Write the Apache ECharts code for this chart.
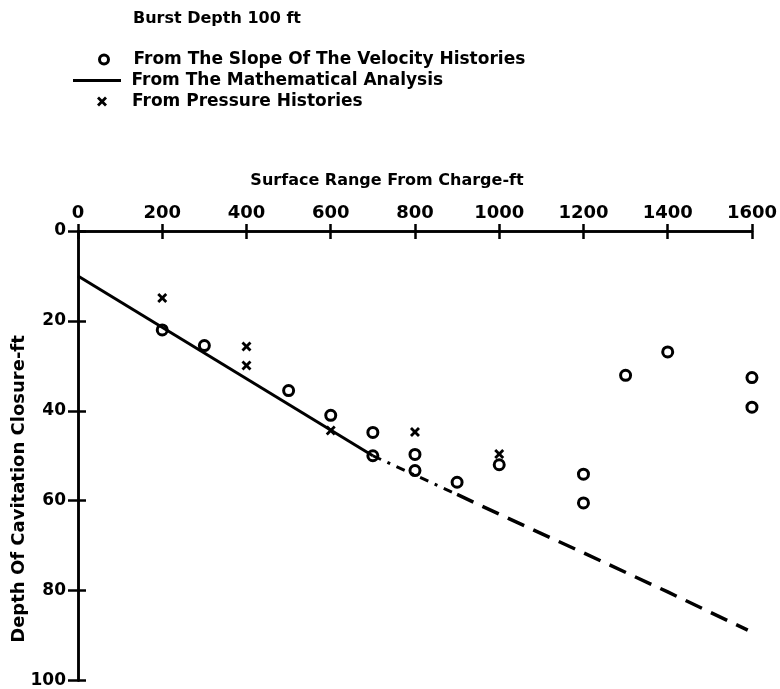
<!DOCTYPE html>
<html>
<head>
<meta charset="utf-8">
<script src="https://cdn.jsdelivr.net/npm/echarts@6/dist/echarts.min.js"></script>
<style>html,body{margin:0;padding:0;background:#fff;}#c{width:780px;height:689px;}</style>
</head>
<body>
<div id="c"></div>
<script>
// ---- data ----
const xTicks = [0, 200, 400, 600, 800, 1000, 1200, 1400, 1600];
const yTicks = [0, 20, 40, 60, 80, 100];
const velocityPoints = [
  [200, 22], [300, 25.5], [500, 35.5], [600, 41], [700, 44.8], [700, 50],
  [800, 49.7], [800, 53.3], [900, 55.9], [1000, 52], [1200, 54.1], [1200, 60.5],
  [1300, 32.1], [1400, 26.9], [1600, 32.6], [1600, 39.2]
];
const pressurePoints = [
  [200, 14.9], [400, 25.7], [400, 29.9], [600, 44.4], [800, 44.7], [1000, 49.6]
];
const analysisSolid = [[0, 10], [700, 50]];
const analysisDashDot = [[700, 50], [900, 58.6]];
const analysisDashed = [[900, 58.6], [1000, 63], [1200, 71.6], [1400, 80.3], [1590, 88.8]];

const FONT = '"DejaVu Sans", sans-serif';
const chart = echarts.init(document.getElementById('c'));
const crossPath = 'path://M0,2 L2,0 L5,3 L8,0 L10,2 L7,5 L10,8 L8,10 L5,7 L2,10 L0,8 L3,5 Z';
const linePath = 'path://M0,0 L48,0 L48,3 L0,3 Z';

const axisLine = { lineStyle: { color: '#000', width: 2.5 } };
const baseX = {
  type: 'value', position: 'top', min: xTicks[0], max: xTicks[xTicks.length - 1], interval: 200,
  axisLine: axisLine, splitLine: { show: false }
};
const baseY = {
  type: 'value', inverse: true, min: yTicks[0], max: yTicks[yTicks.length - 1], interval: 20,
  axisLine: axisLine, splitLine: { show: false }
};
const legText = { color: '#000', fontFamily: FONT, fontWeight: 'bold', fontSize: 17 };

chart.setOption({
  backgroundColor: '#fff',
  animation: false,
  grid: { left: 78, right: 23, top: 231, bottom: 6, containLabel: false },
  xAxis: [
    Object.assign({}, baseX, {
      axisTick: { show: true, inside: false, length: 7, lineStyle: { color: '#000', width: 2.5 } },
      axisLabel: { color: '#000', fontFamily: FONT, fontWeight: 'bold', fontSize: 18, margin: 9,
        formatter: function (v) { return String(v); } }
    }),
    Object.assign({}, baseX, {
      axisTick: { show: true, inside: true, length: 8, lineStyle: { color: '#000', width: 2.5 } },
      axisLabel: { show: false }
    })
  ],
  yAxis: [
    Object.assign({}, baseY, {
      axisTick: { show: true, inside: false, length: 10, lineStyle: { color: '#000', width: 2.5 } },
      axisLabel: { color: '#000', fontFamily: FONT, fontWeight: 'bold', fontSize: 17, margin: 12,
        formatter: function (v) { return String(v); } }
    }),
    Object.assign({}, baseY, {
      position: 'left',
      axisTick: { show: true, inside: true, length: 8, lineStyle: { color: '#000', width: 2.5 } },
      axisLabel: { show: false }
    })
  ],
  graphic: [
    { type: 'text', x: 133, y: 19,
      style: { text: 'Burst Depth 100 ft', font: 'bold 16px ' + FONT, fill: '#000', verticalAlign: 'middle' } },
    { type: 'text', x: 387, y: 181,
      style: { text: 'Surface Range From Charge-ft', font: 'bold 16px ' + FONT, fill: '#000', align: 'center', verticalAlign: 'middle' } },
    { type: 'text', x: 19, y: 489, rotation: Math.PI / 2,
      style: { text: 'Depth Of Cavitation Closure-ft', font: 'bold 18px ' + FONT, fill: '#000', align: 'center', verticalAlign: 'middle' } }
  ],
  legend: [
    { data: ['From The Slope Of The Velocity Histories'], left: 98, top: 51, padding: 0, itemWidth: 9, itemHeight: 9,
      itemStyle: { color: '#fff', borderColor: '#000', borderWidth: 3 },
      textStyle: Object.assign({ padding: [0, 0, 0, 20] }, legText) },
    { data: [{ name: 'From The Mathematical Analysis', icon: linePath }], left: 73, top: 72, padding: 0, itemWidth: 49, itemHeight: 3,
      textStyle: Object.assign({ padding: [0, 0, 0, 5] }, legText) },
    { data: [{ name: 'From Pressure Histories', icon: crossPath }], left: 97, top: 93, padding: 0, itemWidth: 10, itemHeight: 10,
      textStyle: Object.assign({ padding: [0, 0, 0, 20] }, legText) }
  ],
  series: [
    {
      name: 'From The Slope Of The Velocity Histories', type: 'scatter', data: velocityPoints,
      symbol: 'circle', symbolSize: 10,
      itemStyle: { color: '#fff', borderColor: '#000', borderWidth: 3, opacity: 1 }
    },
    {
      name: 'From The Mathematical Analysis', type: 'line', data: analysisSolid,
      symbol: 'none', lineStyle: { color: '#000', width: 3 }, itemStyle: { color: '#000' }
    },
    {
      name: 'dashdot', type: 'line', data: analysisDashDot, symbol: 'none',
      lineStyle: { color: '#000', width: 3, type: [9, 7, 3, 7] }
    },
    {
      name: 'dashed', type: 'line', data: analysisDashed, symbol: 'none',
      lineStyle: { color: '#000', width: 3.5, type: [18, 10] }
    },
    {
      name: 'From Pressure Histories', type: 'scatter', data: pressurePoints,
      symbol: crossPath, symbolSize: 10, itemStyle: { color: '#000', opacity: 1 }
    }
  ]
});
</script>
</body>
</html>
